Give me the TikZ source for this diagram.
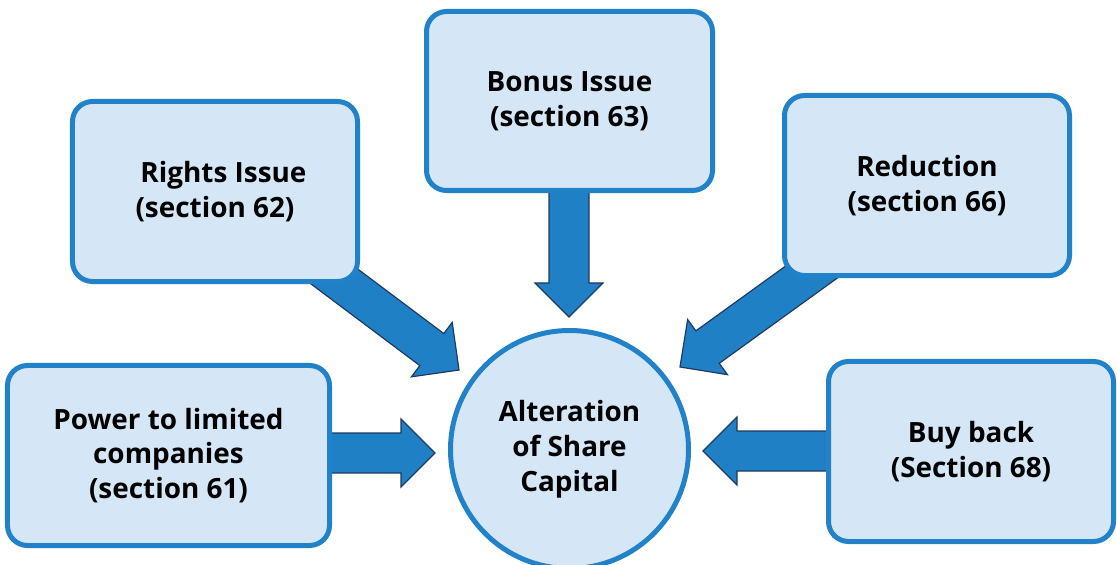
\documentclass[tikz,border=0pt]{standalone}
\usepackage{fontspec}
\setmainfont{Open Sans}
\usetikzlibrary{calc}
\definecolor{boxfill}{HTML}{D5E7F6}
\definecolor{boxline}{HTML}{2181C9}
\definecolor{arrfill}{HTML}{1F80C6}
\definecolor{arrline}{HTML}{1F3A60}
\newcommand\BlkArrow[2]{%
  \coordinate (neck) at ($(#2)!34bp!(#1)$);
  \draw[blockarrow] ($(#1)!20bp!90:(#2)$) -- ($(neck)!20bp!90:(#2)$)
    -- ($(neck)!34bp!90:(#2)$) -- (#2) -- ($(neck)!34bp!-90:(#2)$)
    -- ($(neck)!20bp!-90:(#2)$) -- ($(#1)!20bp!-90:(#2)$) -- cycle;}
\begin{document}
\begin{tikzpicture}[x=1bp,y=-1bp,
  box/.style={draw=boxline, fill=boxfill, line width=5bp, rounded corners=20bp,
    align=center, inner sep=0pt, font=\fontsize{28}{35}\selectfont\bfseries,
    execute at begin node={\rule{0pt}{28bp}}},
  hub/.style={circle, draw=boxline, fill=boxfill, line width=5bp, minimum size=238bp,
    align=center, inner sep=0pt, font=\fontsize{28}{35}\selectfont\bfseries,
    execute at begin node={\rule{0pt}{28bp}}},
  blockarrow/.style={fill=arrfill, draw=arrline, line width=1.2bp, line join=miter}]
\useasboundingbox (0,0) rectangle (1117,565);
% arrow end points
\coordinate (rs) at (299,250);  \coordinate (rt) at (459,370);
\coordinate (bs) at (569,150);  \coordinate (bt) at (569,317);
\coordinate (ds) at (842,250);  \coordinate (dt) at (680,367);
\coordinate (ks) at (900,451);  \coordinate (kt) at (703,451);
\coordinate (ps) at (250,453);  \coordinate (pt) at (435,453);
\BlkArrow{rs}{rt}
\BlkArrow{bs}{bt}
\BlkArrow{ds}{dt}
\BlkArrow{ks}{kt}
\BlkArrow{ps}{pt}
% boxes
\node[box, minimum width=285bp, minimum height=180bp] (rights) at (215,191.5)
  {\hspace*{17bp}Rights Issue\\(section 62)};
\node[box, minimum width=286bp, minimum height=179bp] (bonus) at (569.5,101)
  {Bonus Issue\\(section 63)};
\node[box, minimum width=285bp, minimum height=180bp] (reduction) at (927,185.5)
  {Reduction\\(section 66)};
\node[box, minimum width=285bp, minimum height=180bp] (buyback) at (971,451.5)
  {Buy back\\(Section 68)};
\node[box, minimum width=322bp, minimum height=180bp] (power) at (168.5,455.5)
  {Power to limited\\companies\\(section 61)};
\node[hub] (hub) at (569.5,449.5) {Alteration\\of Share\\Capital};
\end{tikzpicture}
\end{document}
